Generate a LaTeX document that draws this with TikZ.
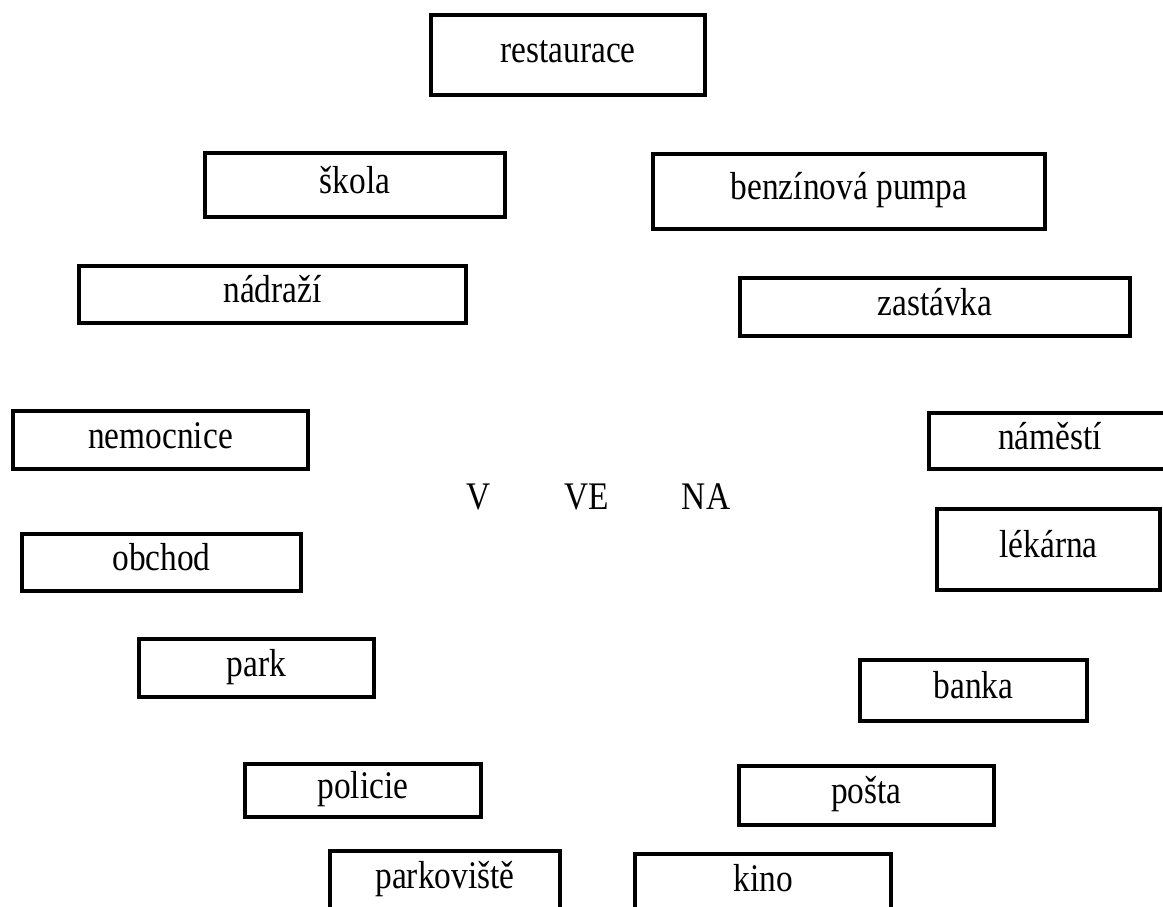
\documentclass[tikz,border=0pt]{standalone}
\usepackage{graphicx}
\usepackage{fontspec}
\setmainfont{Liberation Serif}
\newcommand\tall[1]{\scalebox{1}[1.17]{#1}}
\begin{document}
\begin{tikzpicture}[x=1pt,y=-1pt,
  box/.style={draw, rectangle, line width=4pt, line join=miter, inner sep=0pt,
    text height=16pt, text depth=0pt, font=\fontsize{33.4}{40}\selectfont},
  word/.style={font=\fontsize{33.4}{40}\selectfont, anchor=base, inner sep=0pt}]
\useasboundingbox (0,0) rectangle (1163,907);
\clip (0,0) rectangle (1163,907);
\node[box, minimum width=274pt, minimum height=80pt] (restaurace) at (568,55) {\tall{restaurace}};
\node[box, minimum width=300pt, minimum height=64pt] (skola) at (355,185) {\tall{škola}};
\node[box, minimum width=387pt, minimum height=57pt] (nadrazi) at (272.5,294.5) {\tall{nádraží}};
\node[box, minimum width=392pt, minimum height=75pt] (benzin) at (849,191.5) {\tall{benzínová pumpa}};
\node[box, minimum width=390pt, minimum height=58pt] (zastavka) at (935,307) {\tall{zastávka}};
\node[box, minimum width=295pt, minimum height=58pt] (nemocnice) at (160.5,440) {\tall{nemocnice}};
\node[box, minimum width=242pt, minimum height=56pt] (namesti) at (1050,441) {\tall{náměstí}};
\node[box, minimum width=223pt, minimum height=81pt] (lekarna) at (1048.5,549.5) {\tall{lékárna}};
\node[box, minimum width=279pt, minimum height=57pt] (obchod) at (161.5,562.5) {\tall{obchod}};
\node[box, minimum width=235pt, minimum height=58pt] (park) at (256.5,668) {\tall{park}};
\node[box, minimum width=227pt, minimum height=61pt] (banka) at (973.5,690.5) {\tall{banka}};
\node[box, minimum width=236pt, minimum height=53pt] (policie) at (363,790.5) {\tall{policie}};
\node[box, minimum width=255pt, minimum height=59pt] (posta) at (866.5,795.5) {\tall{pošta}};
\node[box, minimum width=230pt, minimum height=58pt] (parkoviste) at (445,880) {\tall{parkoviště}};
\node[box, minimum width=256pt, minimum height=58pt] (kino) at (763,883) {\tall{kino}};
\node[word] (v) at (479,509) {\tall{V}};
\node[word] (ve) at (587,509) {\tall{VE}};
\node[word] (na) at (706,509) {\tall{NA}};
\end{tikzpicture}
\end{document}
